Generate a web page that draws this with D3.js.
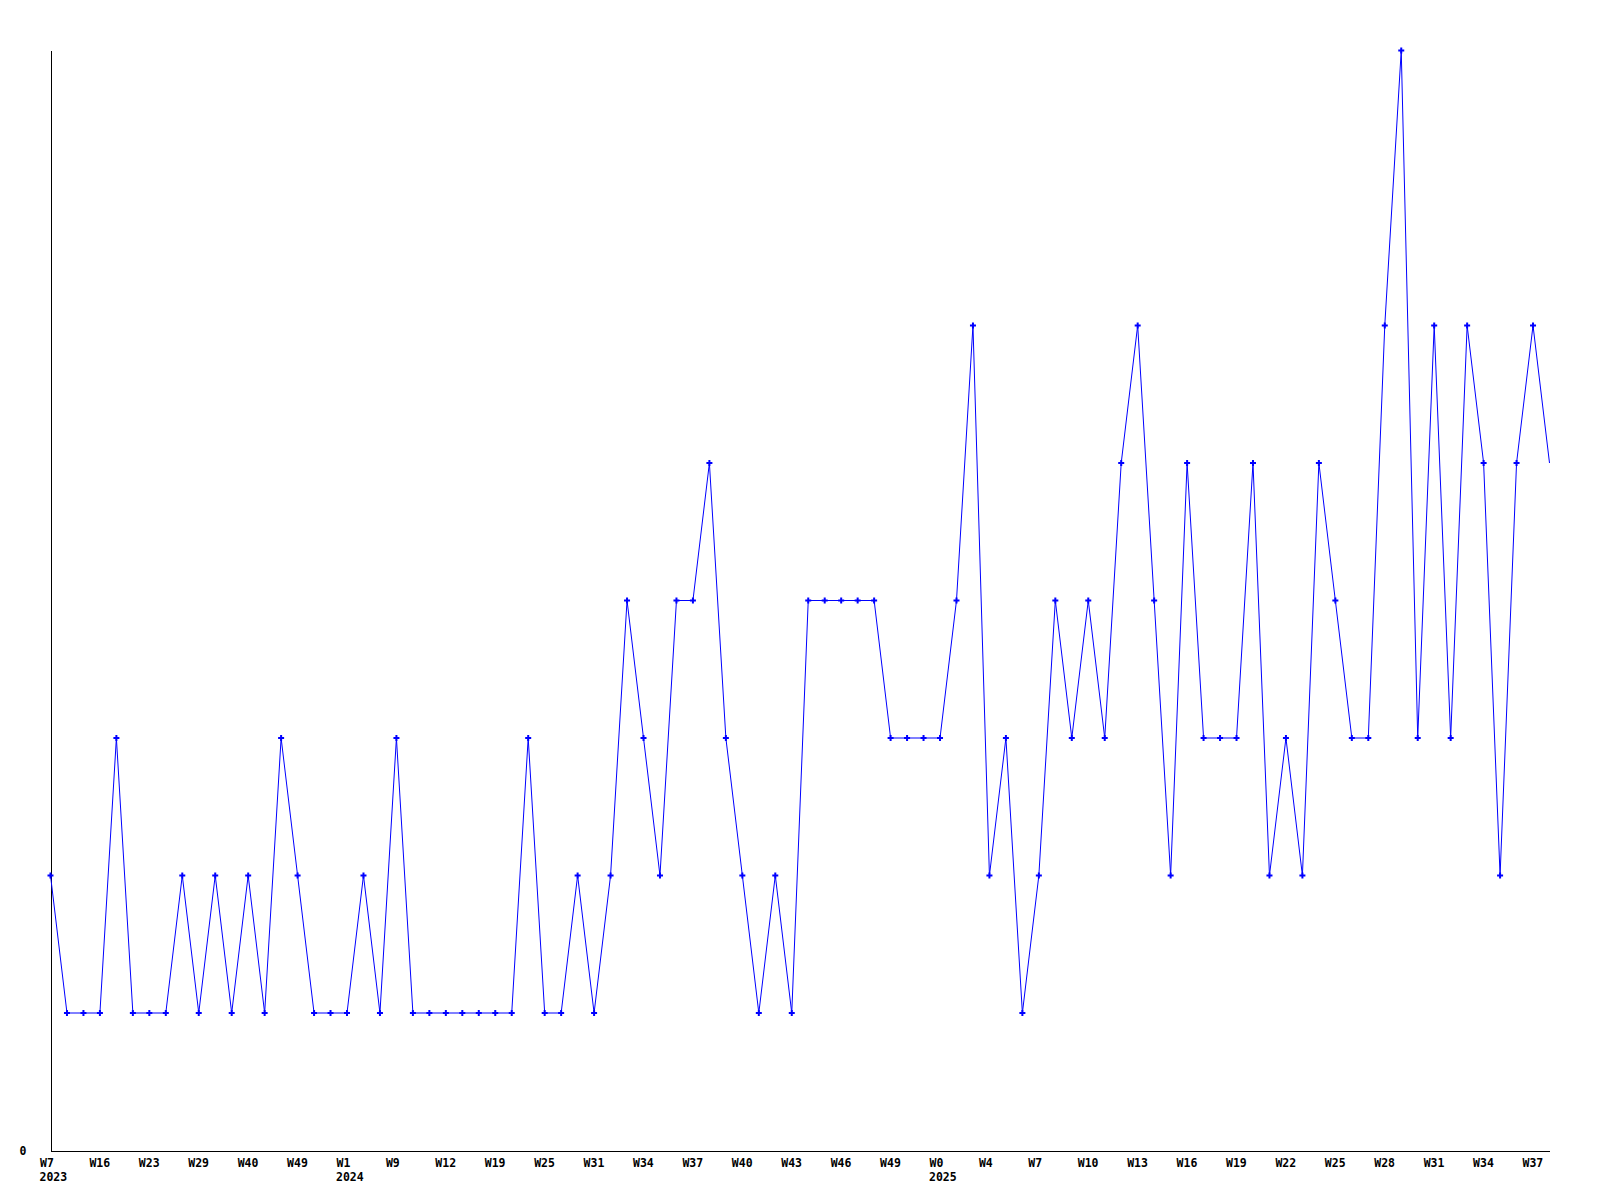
<!DOCTYPE html>
<html>
<head>
<meta charset="utf-8">
<script src="https://cdn.jsdelivr.net/npm/d3@7"></script>
<style>
  body { margin: 0; background: #fff; }
  svg text { font-family: "DejaVu Sans Mono", monospace; font-weight: bold; font-size: 11.5px; fill: #000; }
</style>
</head>
<body>
<svg id="chart" width="1600" height="1200"></svg>
<script>
// weekly counts, one per point
var values = [2,1,1,1,3,1,1,1,2,1, 2,1,2,1,3,2,1,1,1,2,
              1,3,1,1,1,1,1,1,1,3, 1,1,2,1,2,4,3,2,4,4,
              5,3,2,1,2,1,4,4,4,4, 4,3,3,3,3,4,6,2,3,1,
              2,4,3,4,3,5,6,4,2,5, 3,3,3,5,2,3,2,5,4,3,
              3,6,8,3,6,3,6,5,2,5, 6,5];

// a label every third point
var weekLabels = ["W7","W16","W23","W29","W40","W49","W1","W9","W12","W19",
                  "W25","W31","W34","W37","W40","W43","W46","W49","W0","W4",
                  "W7","W10","W13","W16","W19","W22","W25","W28","W31","W34","W37"];
var yearIdx = [0, 18, 54];
var yearLabels = ["2023", "2024", "2025"];
var yTicks = [0];

var svg = d3.select("#chart");

var x = d3.scaleLinear().domain([0, values.length - 1]).range([50.5, 1549.5]);
var y = d3.scaleLinear().domain([0, 8]).range([1150.5, 50.5]);

var labelIdx = weekLabels.map(function(d, i){ return i * 3; });

var xAxis = d3.axisBottom(x)
    .tickValues(labelIdx)
    .tickFormat(function(d){ return weekLabels[d / 3]; })
    .tickSize(0).tickSizeOuter(0).tickPadding(8);

svg.append("g").attr("transform", "translate(0,1150.5)").call(xAxis)
   .call(function(g){
       g.select(".domain").attr("stroke", "#000").attr("shape-rendering", "crispEdges");
       g.selectAll("text").attr("text-anchor", "start").attr("dx", -11)
        .attr("font-family", null).attr("font-size", null);
   });

svg.append("g").selectAll("text.year")
   .data(yearIdx)
   .enter()
   .append("text")
   .attr("class", "year")
   .attr("x", function(d){ return x(d) - 11; })
   .attr("y", 1181)
   .text(function(d, i){ return yearLabels[i]; });

var yAxis = d3.axisLeft(y)
    .tickValues(yTicks)
    .tickFormat(d3.format("d"))
    .tickSize(0).tickSizeOuter(0).tickPadding(24);

svg.append("g").attr("transform", "translate(50.5,0)").call(yAxis)
   .call(function(g){
       g.select(".domain").attr("stroke", "#000").attr("shape-rendering", "crispEdges");
       g.selectAll("text").attr("font-family", null).attr("font-size", null);
   });

var line = d3.line()
    .x(function(d, i){ return x(i); })
    .y(function(d){ return y(d); });

svg.append("path")
   .datum(values)
   .attr("d", line)
   .attr("fill", "none")
   .attr("stroke", "#0000ff")
   .attr("stroke-width", 1);

// markers on every point except the last (still-running) week
var marker = d3.symbol().type(d3.symbolCross).size(20);

svg.append("g").selectAll("path")
   .data(values.slice(0, values.length - 1))
   .enter()
   .append("path")
   .attr("d", marker)
   .attr("transform", function(d, i){ return "translate(" + x(i) + "," + y(d) + ")"; })
   .attr("fill", "#0000ff");
</script>
</body>
</html>
